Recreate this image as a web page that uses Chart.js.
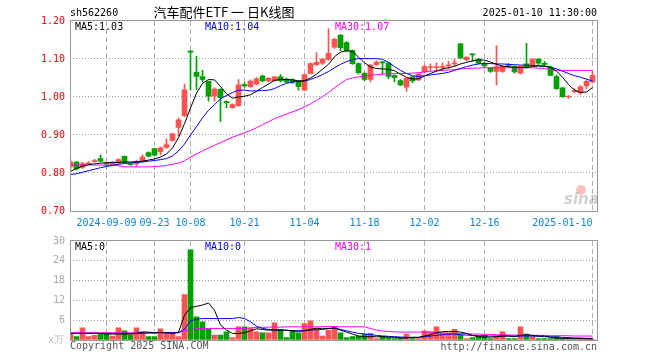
<!DOCTYPE html>
<html>
  <head>
    <meta charset="UTF-8" />
    <title>汽车配件ETF 日K线图</title>
    <script src="https://cdn.jsdelivr.net/npm/chart.js@4.4.1/dist/chart.umd.min.js"></script>
    <style>
      body { margin: 0; background: #fff; }
      #wrap { position: relative; width: 660px; height: 360px; }
      #wrap canvas { position: absolute; left: 0; }
      #kline { top: 0; }
      #vol { top: 230px; }
    </style>
    <script>
      // trading days shown on the chart
      const dates = [
        '2024-08-30',
        '2024-09-02', '2024-09-03', '2024-09-04', '2024-09-05', '2024-09-06',
        '2024-09-09', '2024-09-10', '2024-09-11', '2024-09-12', '2024-09-13',
        '2024-09-18', '2024-09-19', '2024-09-20',
        '2024-09-23', '2024-09-24', '2024-09-25', '2024-09-26', '2024-09-27',
        '2024-09-30',
        '2024-10-08', '2024-10-09', '2024-10-10', '2024-10-11',
        '2024-10-14', '2024-10-15', '2024-10-16', '2024-10-17', '2024-10-18',
        '2024-10-21', '2024-10-22', '2024-10-23', '2024-10-24', '2024-10-25',
        '2024-10-28', '2024-10-29', '2024-10-30', '2024-10-31', '2024-11-01',
        '2024-11-04', '2024-11-05', '2024-11-06', '2024-11-07', '2024-11-08',
        '2024-11-11', '2024-11-12', '2024-11-13', '2024-11-14', '2024-11-15',
        '2024-11-18', '2024-11-19', '2024-11-20', '2024-11-21', '2024-11-22',
        '2024-11-25', '2024-11-26', '2024-11-27', '2024-11-28', '2024-11-29',
        '2024-12-02', '2024-12-03', '2024-12-04', '2024-12-05', '2024-12-06',
        '2024-12-09', '2024-12-10', '2024-12-11', '2024-12-12', '2024-12-13',
        '2024-12-16', '2024-12-17', '2024-12-18', '2024-12-19', '2024-12-20',
        '2024-12-23', '2024-12-24', '2024-12-25', '2024-12-26', '2024-12-27',
        '2024-12-30', '2024-12-31',
        '2025-01-02', '2025-01-03',
        '2025-01-06', '2025-01-07', '2025-01-08', '2025-01-09', '2025-01-10'
      ]
      const tickDates = ['2024-09-09', '2024-09-23', '2024-10-08', '2024-10-21', '2024-11-04',
        '2024-11-18', '2024-12-02', '2024-12-16', '2025-01-10']
      const tickLabels = ['2024-09-09', '09-23', '10-08', '10-21', '11-04',
        '11-18', '12-02', '12-16', '2025-01-10']

      const open = [
        0.816, 0.829, 0.815, 0.824, 0.830, 0.838, 0.826, 0.822, 0.826, 0.844,
        0.825, 0.824, 0.831, 0.854, 0.864, 0.856, 0.867, 0.886, 0.920, 0.951,
        1.121, 1.065, 1.054, 1.041, 1.002, 1.020, 0.987, 0.972, 0.977, 1.033,
        1.027, 1.034, 1.055, 1.042, 1.043, 1.053, 1.047, 1.046, 1.042, 1.018,
        1.062, 1.085, 1.089, 1.099, 1.131, 1.163, 1.143, 1.122, 1.088, 1.062,
        1.046, 1.085, 1.091, 1.089, 1.057, 1.043, 1.026, 1.053, 1.045, 1.066,
        1.077, 1.077, 1.078, 1.082, 1.087, 1.140, 1.098, 1.112, 1.100, 1.088,
        1.076, 1.067, 1.067, 1.084, 1.081, 1.063, 1.087, 1.085, 1.100, 1.088,
        1.079, 1.054, 1.024, 1.000, 1.014, 1.011, 1.029, 1.040
      ]
      const high = [
        0.835, 0.831, 0.828, 0.830, 0.836, 0.848, 0.828, 0.830, 0.838, 0.845,
        0.826, 0.834, 0.848, 0.856, 0.865, 0.868, 0.890, 0.905, 0.945, 1.034,
        1.122, 1.107, 1.070, 1.042, 1.024, 1.022, 0.990, 0.982, 1.046, 1.038,
        1.045, 1.052, 1.058, 1.052, 1.054, 1.059, 1.050, 1.048, 1.044, 1.060,
        1.090, 1.117, 1.102, 1.180, 1.155, 1.164, 1.146, 1.124, 1.090, 1.064,
        1.086, 1.095, 1.093, 1.092, 1.059, 1.046, 1.050, 1.054, 1.062, 1.084,
        1.087, 1.090, 1.090, 1.094, 1.100, 1.141, 1.106, 1.113, 1.102, 1.092,
        1.078, 1.135, 1.083, 1.088, 1.083, 1.082, 1.141, 1.102, 1.101, 1.094,
        1.081, 1.058, 1.025, 1.004, 1.022, 1.030, 1.045, 1.067
      ]
      const low = [
        0.810, 0.808, 0.812, 0.821, 0.828, 0.829, 0.820, 0.820, 0.822, 0.826,
        0.820, 0.818, 0.829, 0.842, 0.845, 0.848, 0.865, 0.884, 0.897, 0.948,
        1.018, 1.019, 1.040, 0.989, 0.989, 0.936, 0.972, 0.970, 0.975, 1.026,
        1.025, 1.032, 1.040, 1.040, 1.041, 1.039, 1.038, 1.036, 1.018, 1.016,
        1.060, 1.083, 1.085, 1.096, 1.128, 1.122, 1.118, 1.086, 1.060, 1.043,
        1.040, 1.083, 1.060, 1.048, 1.040, 1.030, 1.015, 1.038, 1.043, 1.064,
        1.068, 1.068, 1.070, 1.075, 1.081, 1.100, 1.094, 1.094, 1.087, 1.078,
        1.065, 1.032, 1.065, 1.078, 1.063, 1.061, 1.075, 1.082, 1.086, 1.080,
        1.056, 1.020, 0.999, 0.996, 1.010, 1.006, 1.022, 1.037
      ]
      const close = [
        0.829, 0.811, 0.825, 0.826, 0.832, 0.831, 0.823, 0.828, 0.835, 0.828,
        0.822, 0.831, 0.842, 0.844, 0.847, 0.866, 0.875, 0.903, 0.940, 1.019,
        1.118, 1.054, 1.046, 1.002, 1.021, 0.998, 0.985, 0.980, 1.032, 1.029,
        1.042, 1.048, 1.042, 1.049, 1.053, 1.043, 1.040, 1.040, 1.027, 1.059,
        1.088, 1.091, 1.100, 1.115, 1.152, 1.130, 1.122, 1.088, 1.064, 1.046,
        1.084, 1.092, 1.090, 1.054, 1.051, 1.032, 1.049, 1.042, 1.060, 1.080,
        1.078, 1.078, 1.079, 1.083, 1.089, 1.103, 1.105, 1.111, 1.089, 1.082,
        1.067, 1.080, 1.081, 1.083, 1.066, 1.081, 1.078, 1.100, 1.089, 1.086,
        1.057, 1.022, 1.001, 1.001, 1.017, 1.027, 1.041, 1.057
      ]
      // price moving averages
      const ma5 = [
        0.804, 0.812, 0.818, 0.822, 0.824, 0.826, 0.827, 0.828, 0.828, 0.829,
        0.829, 0.829, 0.831, 0.834, 0.837, 0.842, 0.850, 0.866, 0.893, 0.930,
        0.971, 1.010, 1.036, 1.046, 1.045, 1.028, 1.008, 0.997, 1.000, 1.002,
        1.006, 1.015, 1.025, 1.034, 1.044, 1.046, 1.046, 1.045, 1.042, 1.043,
        1.050, 1.060, 1.073, 1.086, 1.106, 1.118, 1.122, 1.120, 1.105, 1.090,
        1.079, 1.075, 1.074, 1.073, 1.069, 1.060, 1.052, 1.047, 1.048, 1.055,
        1.062, 1.068, 1.074, 1.077, 1.081, 1.087, 1.091, 1.095, 1.098, 1.097,
        1.092, 1.086, 1.081, 1.080, 1.078, 1.078, 1.078, 1.080, 1.082, 1.081,
        1.078, 1.068, 1.052, 1.033, 1.018, 1.012, 1.013, 1.025
      ]
      const ma10 = [
        0.796, 0.798, 0.802, 0.806, 0.810, 0.814, 0.817, 0.820, 0.823, 0.825,
        0.827, 0.828, 0.829, 0.831, 0.833, 0.835, 0.838, 0.845, 0.858, 0.876,
        0.900, 0.922, 0.945, 0.965, 0.980, 0.995, 1.004, 1.012, 1.018, 1.018,
        1.016, 1.016, 1.017, 1.018, 1.022, 1.030, 1.036, 1.039, 1.041, 1.042,
        1.046, 1.052, 1.059, 1.067, 1.077, 1.086, 1.093, 1.098, 1.101, 1.101,
        1.101, 1.101, 1.099, 1.091, 1.080, 1.070, 1.062, 1.056, 1.054, 1.056,
        1.058, 1.060, 1.062, 1.065, 1.070, 1.075, 1.080, 1.084, 1.087, 1.088,
        1.088, 1.087, 1.087, 1.086, 1.085, 1.084, 1.084, 1.083, 1.082, 1.081,
        1.078, 1.074, 1.068, 1.062, 1.056, 1.052, 1.047, 1.042
      ]
      const ma30 = [
        0.821, 0.821, 0.821, 0.821, 0.821, 0.821, 0.820, 0.820, 0.819, 0.816,
        0.816, 0.816, 0.816, 0.816, 0.817, 0.818, 0.820, 0.823, 0.826, 0.832,
        0.842, 0.850, 0.858, 0.866, 0.873, 0.880, 0.887, 0.894, 0.900, 0.906,
        0.912, 0.919, 0.927, 0.935, 0.943, 0.949, 0.955, 0.961, 0.967, 0.974,
        0.982, 0.991, 1.001, 1.012, 1.024, 1.036, 1.046, 1.050, 1.053, 1.055,
        1.057, 1.059, 1.060, 1.061, 1.062, 1.062, 1.062, 1.063, 1.064, 1.066,
        1.068, 1.069, 1.070, 1.071, 1.072, 1.074, 1.075, 1.076, 1.076, 1.077,
        1.077, 1.077, 1.077, 1.077, 1.077, 1.077, 1.077, 1.077, 1.076, 1.075,
        1.072, 1.070, 1.070, 1.070, 1.070, 1.070, 1.070, 1.070
      ]
      // volume (万手) and its moving averages
      const volume = [
        1.8, 1.0, 3.7, 1.0, 1.4, 1.8, 1.8, 1.2, 3.7, 2.8,
        1.6, 3.7, 2.5, 1.0, 1.0, 3.4, 2.2, 2.2, 1.0, 13.8,
        27.3, 7.0, 5.5, 3.4, 1.5, 1.5, 2.5, 0.7, 4.0, 4.0,
        3.5, 2.5, 2.2, 2.2, 5.2, 3.2, 0.7, 2.8, 2.2, 5.0,
        5.8, 3.5, 1.2, 3.0, 4.0, 2.2, 0.7, 1.0, 1.2, 1.8,
        2.0, 0.4, 1.2, 0.7, 0.4, 0.7, 1.8, 0.4, 0.4, 2.8,
        2.5, 4.0, 2.2, 2.2, 3.2, 1.5, 0.4, 0.7, 1.2, 1.5,
        0.4, 1.2, 2.5, 0.4, 0.4, 4.0, 1.8, 1.0, 0.4, 0.4,
        0.4, 1.0, 0.4, 0.7, 0.4, 0.4, 0.4, 0.2
      ]
      const volMa5 = [
        2.0, 2.0, 2.0, 2.0, 2.0, 2.0, 1.8, 1.8, 1.8, 1.8,
        1.8, 2.0, 2.4, 2.4, 2.2, 2.3, 2.2, 2.0, 2.4, 7.5,
        9.8, 10.2, 10.6, 11.2, 9.0, 4.5, 3.0, 2.0, 2.0, 2.2,
        2.8, 3.4, 3.2, 3.0, 3.0, 3.0, 3.0, 2.8, 2.6, 2.8,
        3.2, 3.6, 3.4, 3.5, 3.6, 3.0, 2.4, 1.8, 1.2, 1.0,
        1.0, 1.0, 1.0, 0.9, 0.8, 0.6, 0.6, 0.8, 0.8, 1.2,
        1.6, 2.2, 2.5, 2.6, 2.6, 2.4, 2.0, 1.4, 1.0, 0.9,
        0.9, 1.0, 1.2, 1.2, 1.0, 1.4, 1.6, 1.4, 1.2, 1.2,
        0.8, 0.6, 0.5, 0.5, 0.5, 0.4, 0.4, 0.3
      ]
      const volMa10 = [
        2.0, 2.0, 2.0, 2.0, 2.0, 2.0, 2.0, 2.0, 2.0, 2.0,
        2.0, 2.0, 2.0, 2.1, 2.1, 2.2, 2.2, 2.2, 2.2, 3.3,
        5.8, 6.3, 6.5, 6.5, 6.5, 6.5, 6.5, 6.5, 6.8, 6.5,
        5.5, 4.2, 3.5, 3.2, 3.0, 3.0, 2.9, 2.8, 2.8, 2.9,
        3.0, 3.1, 3.2, 3.5, 3.6, 3.2, 2.8, 2.4, 2.0, 1.8,
        1.6, 1.4, 1.2, 1.1, 1.0, 0.9, 0.8, 0.8, 0.8, 1.0,
        1.2, 1.4, 1.6, 1.8, 1.8, 1.6, 1.5, 1.4, 1.3, 1.2,
        1.2, 1.2, 1.2, 1.2, 1.2, 1.2, 1.2, 1.2, 1.1, 1.0,
        1.0, 0.9, 0.8, 0.7, 0.6, 0.6, 0.5, 0.5
      ]
      const volMa30 = [
        2.2, 2.2, 2.2, 2.2, 2.2, 2.2, 2.2, 2.2, 2.2, 2.2,
        2.2, 2.2, 2.2, 2.2, 2.2, 2.2, 2.2, 2.2, 2.2, 2.8,
        3.2, 3.4, 3.5, 3.5, 3.5, 3.5, 3.5, 3.5, 3.5, 3.5,
        3.7, 3.8, 3.8, 3.9, 3.9, 3.9, 4.0, 4.0, 4.0, 4.0,
        4.0, 4.0, 4.0, 4.1, 4.1, 4.0, 4.0, 4.0, 4.0, 4.0,
        3.5, 3.0, 2.7, 2.6, 2.5, 2.4, 2.4, 2.4, 2.4, 2.4,
        2.4, 2.2, 2.1, 2.0, 2.0, 2.0, 1.9, 1.8, 1.8, 1.7,
        1.7, 1.6, 1.6, 1.5, 1.5, 1.5, 1.5, 1.4, 1.4, 1.4,
        1.3, 1.3, 1.3, 1.3, 1.2, 1.2, 1.2, 1.2
      ]

      const mono = '"DejaVu Sans Mono", "Liberation Mono", monospace'
      const RED = '#ff5252'
      const GREEN = '#00a000'
      const tickIdx = tickDates.map(d => dates.indexOf(d))
      const upColor = function (i) {
        return close[i] >= open[i] ? RED : GREEN
      }
      const xy = arr => arr.map((v, i) => ({ x: i, y: v }))

      // shared x axis: one 6px slot per trading day
      const xAxis = function (height) {
        return {
          type: 'linear',
          offset: false,
          min: -1 / 12,
          max: -1 / 12 + 527.5 / 6,
          afterBuildTicks: s => { s.ticks = tickIdx.map(v => ({ value: v })) },
          afterFit: s => { s.height = height },
          ticks: { display: false },
          grid: { color: '#b0b0b0', drawTicks: false, offset: false },
          border: { display: false, dash: [5, 3] }
        }
      }
      const maLine = function (data, color) {
        return {
          type: 'line', data: xy(data), borderColor: color, borderWidth: 1,
          pointRadius: 0, tension: 0, order: 0
        }
      }
      const frame = {
        id: 'frame',
        afterDatasetsDraw (chart) {
          const a = chart.chartArea
          const ctx = chart.ctx
          ctx.save()
          ctx.strokeStyle = '#999'
          ctx.lineWidth = 1
          ctx.strokeRect(70.5, Math.round(a.top) - 0.5, 527, Math.round(a.bottom - a.top) + 1)
          ctx.restore()
        }
      }

      const drawKline = function () {
        const texts = {
          id: 'texts',
          afterDraw (chart) {
            const ctx = chart.ctx
            const x = chart.scales.x
            ctx.save()
            ctx.textBaseline = 'alphabetic'
            ctx.font = '10px ' + mono
            ctx.fillStyle = '#000'
            ctx.textAlign = 'left'
            ctx.fillText('sh562260', 70, 16)
            ctx.textAlign = 'right'
            ctx.fillText('2025-01-10 11:30:00', 597, 16)
            ctx.textAlign = 'center'
            ctx.font = '13px "Noto Sans CJK SC"'
            ctx.fillText('汽车配件ETF 一 日K线图', 224, 17)
            ctx.font = '10px ' + mono
            ctx.textAlign = 'left'
            ctx.fillStyle = '#000'
            ctx.fillText('MA5:1.03', 75, 30)
            ctx.fillStyle = '#0000ff'
            ctx.fillText('MA10:1.04', 205, 30)
            ctx.fillStyle = '#ff00ff'
            ctx.fillText('MA30:1.07', 335, 30)
            // date labels under the axis
            ctx.fillStyle = '#0a84d6'
            tickIdx.forEach((v, k) => {
              const px = x.getPixelForValue(v)
              ctx.textAlign = k === tickIdx.length - 1 ? 'right' : 'center'
              ctx.fillText(tickLabels[k], px, 226)
            })
            // sina watermark
            ctx.globalAlpha = 0.3
            ctx.fillStyle = '#e33'
            ctx.beginPath()
            ctx.arc(581, 190, 5, 0, Math.PI * 2)
            ctx.fill()
            ctx.fillStyle = '#666'
            ctx.font = 'italic bold 15px "DejaVu Sans"'
            ctx.textAlign = 'left'
            ctx.fillText('sina', 564, 204)
            ctx.restore()
          }
        }
        new Chart(document.querySelector('#kline').getContext('2d'), {
          type: 'bar',
          data: {
            datasets: [
              maLine(ma5, '#000000'),
              maLine(ma10, '#0000ff'),
              maLine(ma30, '#ff00ff'),
              {
                data: dates.map((d, i) => ({ x: i, y: [open[i], close[i]] })),
                backgroundColor: dates.map((d, i) => upColor(i)),
                barThickness: 5, minBarLength: 1, grouped: false, order: 2
              },
              {
                data: dates.map((d, i) => ({ x: i, y: [low[i], high[i]] })),
                backgroundColor: dates.map((d, i) => upColor(i)),
                barThickness: 1, minBarLength: 1, grouped: false, order: 3
              }
            ]
          },
          options: {
            responsive: false,
            animation: false,
            layout: { padding: { left: 0, right: 62.5, top: 21, bottom: 0 } },
            plugins: { legend: { display: false }, tooltip: { enabled: false } },
            scales: {
              x: xAxis(19),
              y: {
                min: 0.7, max: 1.2,
                afterFit: s => { s.width = 70 },
                ticks: {
                  stepSize: 0.1, color: '#ff0000', padding: 5,
                  font: { family: mono, size: 10 },
                  callback: v => Number(v).toFixed(2)
                },
                grid: {
                  drawTicks: false,
                  color: ctx => (ctx.tick.value < 0.705 || ctx.tick.value > 1.195) ? 'rgba(0,0,0,0)' : '#a0a0a0'
                },
                border: { display: false, dash: [1, 2] }
              }
            }
          },
          plugins: [frame, texts]
        })
      }

      const drawVolume = function () {
        const texts = {
          id: 'voltexts',
          afterDraw (chart) {
            const ctx = chart.ctx
            ctx.save()
            ctx.font = '10px ' + mono
            ctx.textAlign = 'left'
            ctx.fillStyle = '#000'
            ctx.fillText('MA5:0', 75, 20)
            ctx.fillStyle = '#0000ff'
            ctx.fillText('MA10:0', 205, 20)
            ctx.fillStyle = '#ff00ff'
            ctx.fillText('MA30:1', 335, 20)
            ctx.fillStyle = '#bbbbbb'
            ctx.textAlign = 'right'
            ctx.fillText('x万', 64, 113)
            ctx.fillStyle = '#555'
            ctx.textAlign = 'left'
            ctx.fillText('Copyright 2025 SINA.COM', 70, 119)
            ctx.textAlign = 'right'
            ctx.fillText('http://finance.sina.com.cn', 597, 120)
            ctx.restore()
          }
        }
        new Chart(document.querySelector('#vol').getContext('2d'), {
          type: 'bar',
          data: {
            datasets: [
              maLine(volMa5, '#000000'),
              maLine(volMa10, '#0000ff'),
              maLine(volMa30, '#ff00ff'),
              {
                data: xy(volume),
                backgroundColor: dates.map((d, i) => upColor(i)),
                barThickness: 5, grouped: false, order: 2
              }
            ]
          },
          options: {
            responsive: false,
            animation: false,
            layout: { padding: { left: 0, right: 62.5, top: 10, bottom: 0 } },
            plugins: { legend: { display: false }, tooltip: { enabled: false } },
            scales: {
              x: xAxis(20),
              y: {
                min: 0, max: 30,
                afterFit: s => { s.width = 70 },
                ticks: {
                  stepSize: 6, color: '#a8a8a8', padding: 5,
                  font: { family: mono, size: 10 },
                  callback: v => v === 0 ? '' : v
                },
                grid: {
                  drawTicks: false,
                  color: ctx => (ctx.tick.value < 1 || ctx.tick.value > 29) ? 'rgba(0,0,0,0)' : '#a0a0a0'
                },
                border: { display: false, dash: [1, 2] }
              }
            }
          },
          plugins: [frame, texts]
        })
      }

      window.onload = function () {
        drawKline()
        drawVolume()
      }
    </script>
  </head>
  <body>
    <div id="wrap">
      <canvas id="kline" width="660" height="230"></canvas>
      <canvas id="vol" width="660" height="130"></canvas>
    </div>
  </body>
</html>
